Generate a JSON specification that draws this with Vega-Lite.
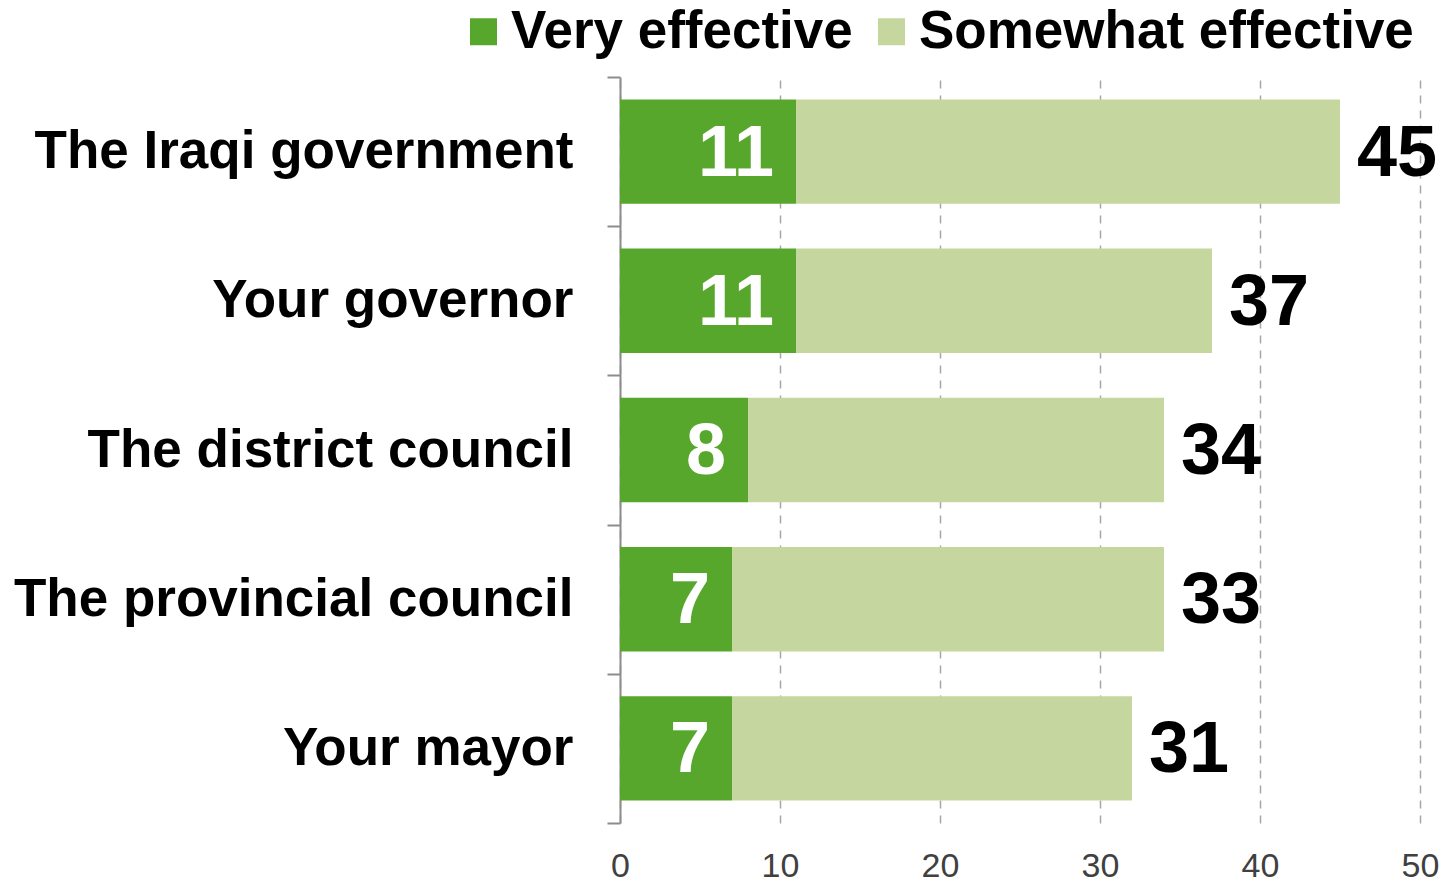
{
  "$schema": "https://vega.github.io/schema/vega-lite/v6.json",
  "width": 800,
  "height": 746,
  "autosize": "none",
  "padding": {"left": 620, "top": 77, "right": 30, "bottom": 60},
  "background": "white",
  "config": {
    "font": "Liberation Sans",
    "view": {"stroke": null}
  },
  "datasets": {
    "segments": [
      {"body": "The Iraqi government", "rating": "Very effective", "value": 11},
      {"body": "The Iraqi government", "rating": "Somewhat effective", "value": 34},
      {"body": "Your governor", "rating": "Very effective", "value": 11},
      {"body": "Your governor", "rating": "Somewhat effective", "value": 26},
      {"body": "The district council", "rating": "Very effective", "value": 8},
      {"body": "The district council", "rating": "Somewhat effective", "value": 26},
      {"body": "The provincial council", "rating": "Very effective", "value": 7},
      {"body": "The provincial council", "rating": "Somewhat effective", "value": 27},
      {"body": "Your mayor", "rating": "Very effective", "value": 7},
      {"body": "Your mayor", "rating": "Somewhat effective", "value": 25}
    ],
    "totals": [
      {"body": "The Iraqi government", "end": 45, "label": "45"},
      {"body": "Your governor", "end": 37, "label": "37"},
      {"body": "The district council", "end": 34, "label": "34"},
      {"body": "The provincial council", "end": 34, "label": "33"},
      {"body": "Your mayor", "end": 32, "label": "31"}
    ]
  },
  "encoding": {
    "y": {
      "field": "body",
      "type": "nominal",
      "sort": ["The Iraqi government", "Your governor", "The district council", "The provincial council", "Your mayor"],
      "scale": {"paddingInner": 0, "paddingOuter": 0},
      "axis": {
        "title": null,
        "labelFont": "Liberation Sans",
        "labelFontSize": 53,
        "labelFontWeight": "bold",
        "labelColor": "#000000",
        "labelPadding": 34,
        "labelLimit": 700,
        "tickBand": "extent",
        "tickSize": 13,
        "tickColor": "#8c8c8c",
        "tickWidth": 2,
        "domainColor": "#8c8c8c",
        "domainWidth": 2,
        "grid": false
      }
    }
  },
  "layer": [
    {
      "data": {"name": "segments"},
      "mark": {"type": "bar", "height": {"band": 0.7}},
      "encoding": {
        "x": {
          "field": "value",
          "type": "quantitative",
          "stack": "zero",
          "scale": {"domain": [0, 50], "nice": false},
          "axis": {
            "title": null,
            "values": [0, 10, 20, 30, 40, 50],
            "labelFontSize": 34,
            "labelColor": "#404040",
            "labelPadding": 26,
            "labelFlush": false,
            "labelBound": false,
            "labelOverlap": false,
            "ticks": false,
            "domain": false,
            "grid": true,
            "gridColor": "#a6a6a6",
            "gridWidth": 1.5,
            "gridDash": [8, 7]
          }
        },
        "color": {
          "field": "rating",
          "type": "nominal",
          "scale": {"domain": ["Very effective", "Somewhat effective"], "range": ["#57a72d", "#c5d79e"]},
          "legend": {
            "title": null,
            "orient": "none",
            "direction": "horizontal",
            "legendX": -163,
            "legendY": -72,
            "symbolType": "square",
            "symbolSize": 729,
            "symbolStrokeWidth": 0,
            "labelFont": "Liberation Sans",
            "labelFontSize": 53,
            "labelFontWeight": "bold",
            "labelColor": "#000000",
            "labelLimit": 700,
            "labelOffset": 1,
            "columnPadding": 12
          }
        },
        "order": {"field": "rating", "sort": "descending"}
      }
    },
    {
      "data": {"name": "segments"},
      "transform": [{"filter": "datum.rating === 'Very effective'"}],
      "mark": {"type": "text", "align": "right", "baseline": "middle", "dx": -22, "dy": 2, "fontSize": 72, "fontWeight": "bold", "color": "#ffffff", "font": "Liberation Sans"},
      "encoding": {
        "x": {"field": "value", "type": "quantitative"},
        "text": {"field": "value", "type": "quantitative"}
      }
    },
    {
      "data": {"name": "totals"},
      "mark": {"type": "text", "align": "left", "baseline": "middle", "dx": 17, "dy": 2, "fontSize": 72, "fontWeight": "bold", "color": "#000000", "font": "Liberation Sans"},
      "encoding": {
        "x": {"field": "end", "type": "quantitative"},
        "text": {"field": "label", "type": "nominal"}
      }
    }
  ]
}
